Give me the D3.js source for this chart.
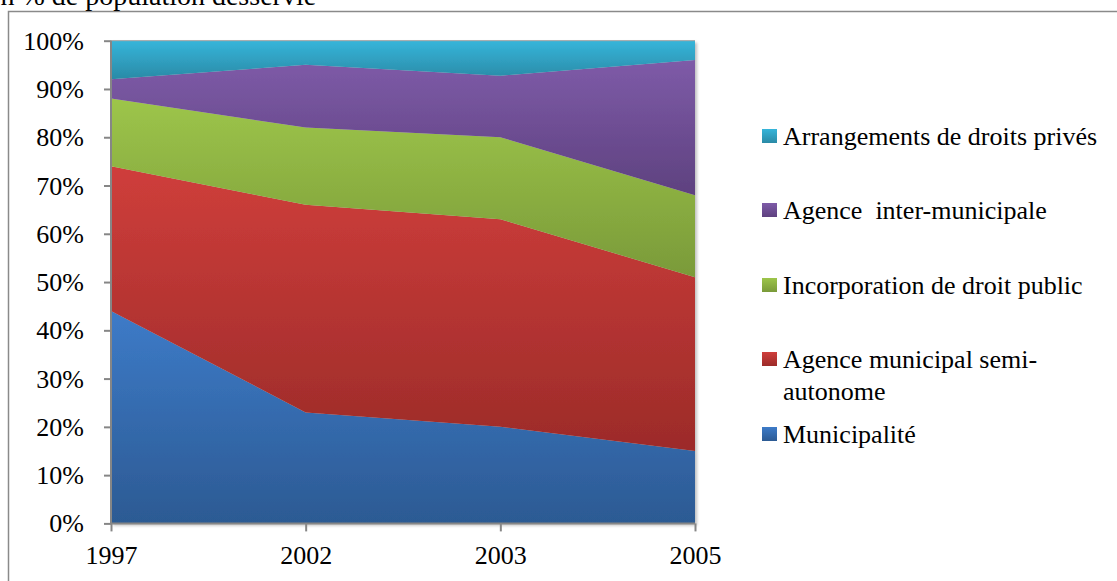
<!DOCTYPE html>
<html>
<head>
<meta charset="utf-8">
<script src="https://cdn.jsdelivr.net/npm/d3@7"></script>
<style>
  html, body { margin: 0; padding: 0; background: #fff; overflow: hidden; }
  svg { display: block; }
  svg text { font-family: "Liberation Serif", "Times New Roman", serif; }
</style>
</head>
<body>
<svg id="chart" width="1117" height="581"></svg>
<script>
// ---- data ----
const years = ["1997", "2002", "2003", "2005"];
const seriesNames = [
  "Municipalité",
  "Agence municipal semi-autonome",
  "Incorporation de droit public",
  "Agence  inter-municipale",
  "Arrangements de droits privés"
];
const municipalite   = [44, 23, 20, 15];
const semiAutonome   = [30, 43, 43, 36];
const incorporation  = [14, 16, 17, 17];
const interMunicipal = [4, 13, 12.75, 28];
const droitsPrives   = [8, 5, 7.25, 4];
const yTicks = [0, 0.1, 0.2, 0.3, 0.4, 0.5, 0.6, 0.7, 0.8, 0.9, 1];
const titleText = "en % de population desservie";

// ---- styles ----
const FONT = '"Liberation Serif", "Times New Roman", serif';
const gradients = [
  ["#3d7bc8", "#2c5a93"],
  ["#cf3e3b", "#9c2b29"],
  ["#9dc54a", "#7a9a39"],
  ["#7e5ba8", "#5e417f"],
  ["#36b5da", "#2a8aa6"]
];

const valuesBySeries = [municipalite, semiAutonome, incorporation, interMunicipal, droitsPrives];
const table = years.map((yr, i) => {
  const row = { year: yr };
  seriesNames.forEach((s, k) => row[s] = valuesBySeries[k][i]);
  return row;
});

const svg = d3.select("#chart");
const defs = svg.append("defs");
gradients.forEach((gc, k) => {
  const lgr = defs.append("linearGradient").attr("id", "g" + k)
    .attr("x1", 0).attr("y1", 0).attr("x2", 0).attr("y2", 1);
  lgr.append("stop").attr("offset", "0%").attr("stop-color", gc[0]);
  lgr.append("stop").attr("offset", "100%").attr("stop-color", gc[1]);
});
const sh = defs.append("filter").attr("id", "shadow").attr("x", "-5%").attr("y", "-5%").attr("width", "115%").attr("height", "115%");
sh.append("feDropShadow").attr("dx", 2).attr("dy", 2).attr("stdDeviation", 1.5).attr("flood-color", "#000").attr("flood-opacity", 0.25);

// outer chart border
svg.append("path").attr("d", "M8.5,581 V11.5 H1117").attr("fill", "none").attr("stroke", "#8a8a8a").attr("stroke-width", 1.5);

// title (partly cut off at top-left, as in the reference)
svg.append("text").attr("x", -12).attr("y", 5).style("font-family", FONT).style("font-size", "28px")
  .attr("fill", "#000").text(titleText);

const pLeft = 111, pRight = 695, pTop = 40.7, pBottom = 523.4;
const x = d3.scalePoint().domain(years).range([pLeft, pRight]);
const y = d3.scaleLinear().domain([0, 1]).range([pBottom, pTop]);

const stack = d3.stack().keys(seriesNames).offset(d3.stackOffsetExpand);
const layers = stack(table);
const area = d3.area()
  .x(d => x(d.data.year))
  .y0(d => y(d[0]))
  .y1(d => y(d[1]));

const gArea = svg.append("g").attr("filter", "url(#shadow)");
gArea.selectAll("path.layer").data(layers).join("path")
  .attr("class", "layer")
  .attr("d", area)
  .attr("fill", (d, i) => `url(#g${i})`);

// thin top border
svg.append("line").attr("x1", pLeft).attr("x2", pRight).attr("y1", pTop).attr("y2", pTop)
  .attr("stroke", "#a0a0a0").attr("stroke-width", 1);

// axes
const yAxis = d3.axisLeft(y).tickValues(yTicks).tickFormat(d3.format(".0%")).tickSize(7).tickPadding(20);
const gy = svg.append("g").attr("transform", `translate(${pLeft},0)`).call(yAxis);
const xAxis = d3.axisBottom(x).tickSize(8).tickPadding(14);
const gx = svg.append("g").attr("transform", `translate(0,${pBottom})`).call(xAxis);
[gy, gx].forEach(a => {
  a.attr("font-family", null).attr("font-size", null);
  a.select(".domain").attr("stroke", "#868686").attr("stroke-width", 2);
  a.selectAll(".tick line").attr("stroke", "#868686").attr("stroke-width", 2);
  a.selectAll(".tick text").attr("fill", "#000").style("font-family", FONT).style("font-size", "26px");
});
gx.select(".domain").attr("d", `M${pLeft},0H${pRight}`);
gy.select(".domain").attr("d", `M0,${pBottom}V${pTop}`);
gy.selectAll(".tick text").attr("dy", "0.33em");
gx.selectAll(".tick text").attr("dy", "0.71em");

// legend (top to bottom: reverse order of stack)
const legendRows = [
  { k: 4, lines: ["Arrangements de droits privés"], y: 136 },
  { k: 3, lines: ["Agence  inter-municipale"], y: 210 },
  { k: 2, lines: ["Incorporation de droit public"], y: 285 },
  { k: 1, lines: ["Agence municipal semi-", "autonome"], y: 359 },
  { k: 0, lines: ["Municipalité"], y: 434 }
];
const lg = svg.append("g");
legendRows.forEach(r => {
  lg.append("rect").attr("x", 762).attr("y", r.y - 7).attr("width", 15).attr("height", 14)
    .attr("fill", `url(#g${r.k})`);
  const t = lg.append("text").attr("x", 783).attr("y", r.y + 9)
    .style("font-family", FONT).style("font-size", "26px")
    .attr("fill", "#000").style("white-space", "pre");
  r.lines.forEach((ln, i) => {
    t.append("tspan").attr("x", 783).attr("dy", i === 0 ? 0 : 32).text(ln);
  });
});
</script>
</body>
</html>
